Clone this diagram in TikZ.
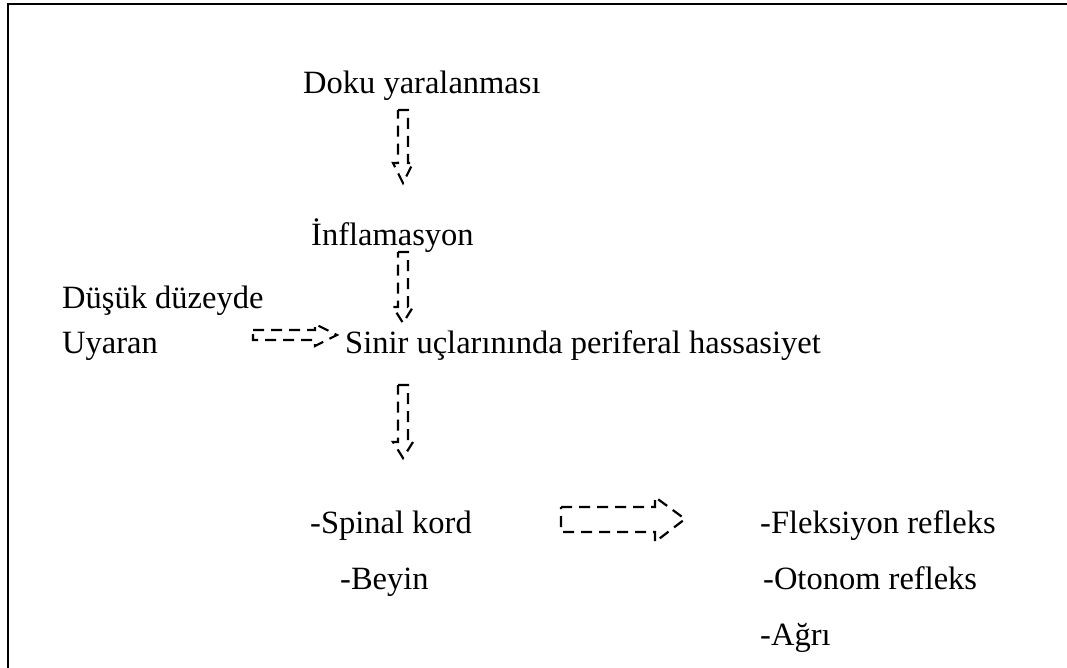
\documentclass[tikz,border=0pt]{standalone}
\usepackage{fontspec}
\setmainfont{Liberation Serif}
\begin{document}
\begin{tikzpicture}[x=1pt,y=-1pt,
  lbl/.style={anchor=base west,inner sep=0pt,font=\fontsize{32.5}{38}\selectfont},
  blk/.style={draw=black,line width=2.2pt,dash pattern=on 11pt off 7pt,line join=miter},
  frame/.style={draw=black,line width=2pt}]
\useasboundingbox (0,0) rectangle (1067,668);
% frame (top and left edges)
\draw[frame] (8,668) -- (8,4) -- (1067,4);

% labels
\node[lbl] (doku) at (303,94) {Doku yaralanması};
\node[lbl] (inf)  at (311,246) {İnflamasyon};
\node[lbl] (dus)  at (62,308) {Düşük düzeyde};
\node[lbl] (uya)  at (62,353) {Uyaran};
\node[lbl] (sin)  at (345,353) {Sinir uçlarınında periferal hassasiyet};
\node[lbl] (spi)  at (310,533) {-Spinal kord};
\node[lbl] (bey)  at (340,589) {-Beyin};
\node[lbl] (fle)  at (760,533) {-Fleksiyon refleks};
\node[lbl] (oto)  at (763,589) {-Otonom refleks};
\node[lbl] (agr)  at (760,645) {-Ağrı};

% dashed block arrows
\draw[blk] (398,110) -- (408,110) -- (408,163) -- (413,163) -- (403,183) -- (393,163) -- (398,163) -- cycle;
\draw[blk] (398,252) -- (408,252) -- (408,307) -- (413,307) -- (403,323) -- (393,307) -- (398,307) -- cycle;
\draw[blk] (398,385) -- (408,385) -- (408,442) -- (413,442) -- (403,458) -- (393,442) -- (398,442) -- cycle;
\draw[blk] (253,330) -- (315,330) -- (315,324) -- (337,335) -- (315,346) -- (315,340) -- (253,340) -- cycle;
\draw[blk] (561,507) -- (655,507) -- (655,497) -- (685,519) -- (655,542) -- (655,532) -- (561,532) -- cycle;
\end{tikzpicture}
\end{document}
